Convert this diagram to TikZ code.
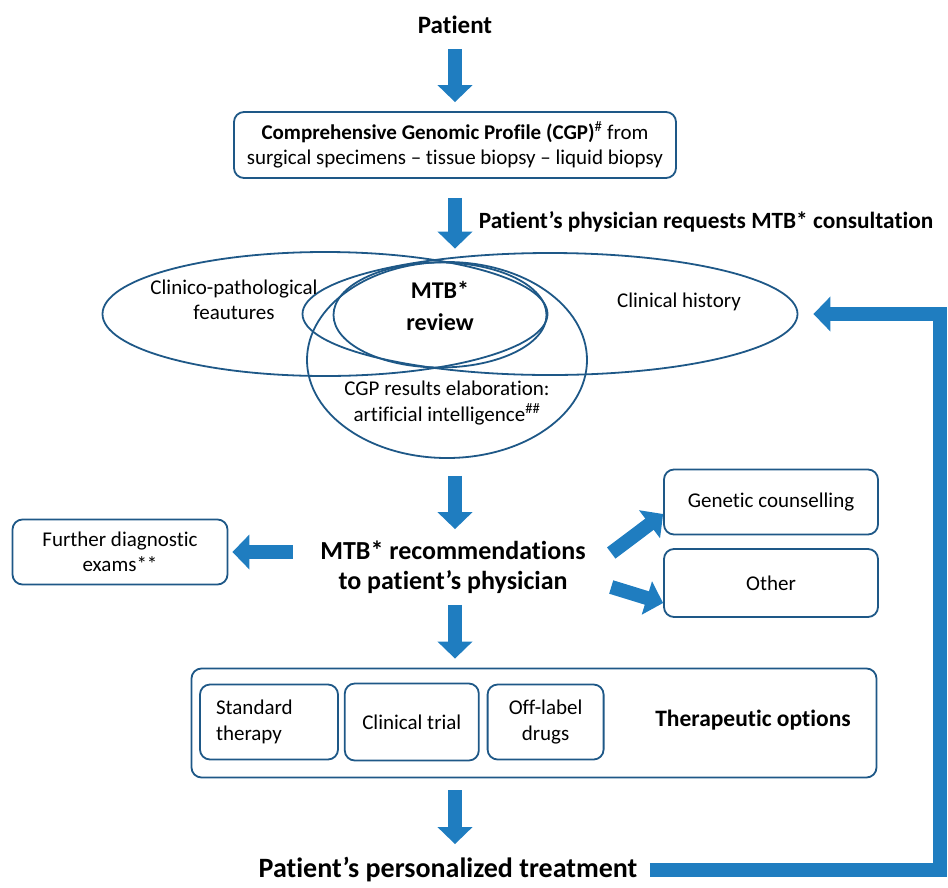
\documentclass[tikz,border=0pt]{standalone}
\usepackage{fontspec}
\setmainfont{Carlito}[Ligatures=NoCommon]
\usetikzlibrary{positioning,shapes.geometric,arrows.meta}
\definecolor{arrowblue}{RGB}{31,125,192}
\definecolor{lineblue}{RGB}{30,88,135}

\begin{document}
\begin{tikzpicture}[x=1pt,y=-1pt]
\tikzstyle{every node}=[font=\fontsize{21}{25.5}\selectfont,align=center];
\tikzstyle{rbox}=[rectangle,rounded corners=10pt,draw=lineblue,line width=1.8pt];
\tikzstyle{oval}=[ellipse,draw=lineblue,line width=1.8pt,inner sep=0pt];
\tikzstyle{bigarrow}=[color=arrowblue,line width=14pt,-{Triangle[width=34pt,length=17pt]}];
\useasboundingbox (0,0) rectangle (948,887);
\node[font=\fontsize{25}{30}\selectfont\bfseries] (patient) at (455,25) {Patient};
\node[rbox,minimum width=442pt,minimum height=66pt] (cgp) at (455,145)
  {\textbf{Comprehensive Genomic Profile (CGP)}\textsuperscript{\#} from\\surgical specimens – tissue biopsy – liquid biopsy};
\node[font=\fontsize{23.3}{28}\selectfont\bfseries] (request) at (706,222) {Patient’s physician requests MTB* consultation};
\node[oval,minimum width=445pt,minimum height=124pt] (clinpath) at (325,314) {};
\node[oval,minimum width=495pt,minimum height=122pt] (history) at (550,314) {};
\node[oval,minimum width=280pt,minimum height=196pt] (cgpres) at (447,360) {};
\node[oval,minimum width=213pt,minimum height=105pt] (review) at (440,315) {};
\node (clinpathtxt) at (234,300) {Clinico-pathological\\feautures};
\node (historytxt) at (679,302) {Clinical history};
\node[font=\fontsize{24}{32}\selectfont\bfseries] (reviewtxt) at (440,306) {MTB*\\review};
\node (cgprestxt) at (447,403) {CGP results elaboration:\\artificial intelligence\textsuperscript{\#\#}};
\node[font=\fontsize{26}{30}\selectfont\bfseries] (recs) at (453,567) {MTB* recommendations\\to patient’s physician};
\node[rbox,minimum width=215pt,minimum height=65pt] (further) at (120,552) {Further diagnostic\\exams**};
\node[rbox,minimum width=214pt,minimum height=65pt] (genetic) at (771,502) {Genetic counselling};
\node[rbox,minimum width=214pt,minimum height=68pt] (other) at (771,583) {Other};
\node[rbox,minimum width=685pt,minimum height=109pt] (therapy) at (534,723) {};
\node[rbox,minimum width=138pt,minimum height=75pt,text width=106pt,align=left] (standard) at (269,722) {Standard\\therapy};
\node[rbox,minimum width=134pt,minimum height=77pt] (trial) [right=5pt of standard] {Clinical trial};
\node[rbox,minimum width=116pt,minimum height=75pt,text width=92pt] (offlabel) [right=7pt of trial] {Off-label\\drugs};
\node[font=\fontsize{23.5}{28}\selectfont\bfseries] (options) at (753,720) {Therapeutic options};
\node[font=\fontsize{28}{33}\selectfont\bfseries] (treatment) at (448,870) {Patient’s personalized treatment};
\coordinate (bend) at (940,314);
\draw[bigarrow,shorten <=12pt,shorten >=9pt] (patient) -- (patient |- cgp.north);
\draw[bigarrow,shorten <=19pt,shorten >=13pt] (cgp) -- (cgp |- review.north);
\draw[bigarrow,shorten <=17pt,shorten >=8pt] (cgp |- cgpres.south) -- (cgp |- recs.north);
\draw[bigarrow,shorten <=24pt,shorten >=4pt] (recs.west |- further) -- (further.east);
\draw[bigarrow] ([xshift=22pt,yshift=14pt]recs.east) -- ([yshift=-12pt]genetic.west);
\draw[bigarrow] ([xshift=22pt,yshift=-20pt]recs.east) -- ([yshift=-20pt]other.west);
\draw[bigarrow,shorten <=8pt,shorten >=9pt] (cgp |- recs.south) -- (cgp |- therapy.north);
\draw[bigarrow,shorten <=12pt,shorten >=10pt] (cgp |- therapy.south) -- (cgp |- treatment.north);
\draw[bigarrow,shorten <=9pt,shorten >=15pt] (treatment.east) -| (bend) -- (history.east);
\end{tikzpicture}
\end{document}
